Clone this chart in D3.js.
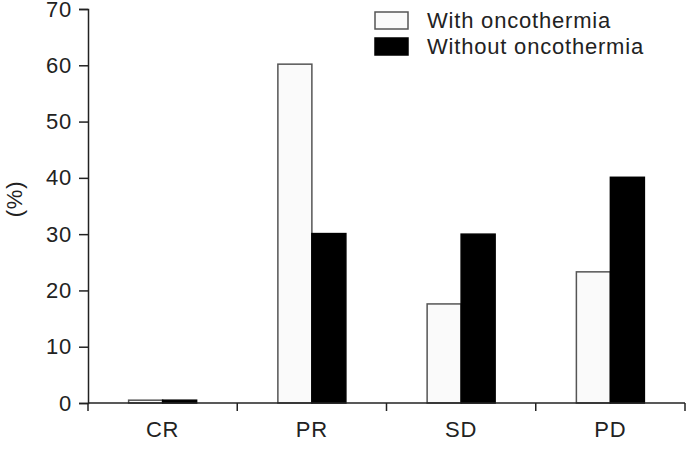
<!DOCTYPE html>
<html>
<head>
<meta charset="utf-8">
<script src="https://cdn.jsdelivr.net/npm/d3@7"></script>
<style>
  body { margin: 0; background: #fff; }
  svg text { font-family: "Liberation Sans", Arial, sans-serif; fill: #222; letter-spacing: 0.8px; }
</style>
</head>
<body>
<div id="chart"></div>
<script>
var categories = ["CR", "PR", "SD", "PD"];
var seriesNames = ["With oncothermia", "Without oncothermia"];
var withOnco = [0.5, 60.2, 17.6, 23.3];
var withoutOnco = [0.5, 30.1, 30, 40.1];
var yTicks = [0, 10, 20, 30, 40, 50, 60, 70];
var fills = ["#fafafa", "#000"];
var strokes = ["#555", "#000"];

var width = 690, height = 451;
var margin = { left: 88, right: 5, top: 9, bottom: 48 };

var svg = d3.select("#chart").append("svg")
  .attr("width", width)
  .attr("height", height);

var x = d3.scaleBand()
  .domain(categories)
  .range([margin.left, width - margin.right])
  .paddingInner(0)
  .paddingOuter(0);

var y = d3.scaleLinear()
  .domain([0, 70])
  .range([height - margin.bottom, margin.top]);

var sub = d3.scaleBand()
  .domain([0, 1])
  .range([0, 68]);

var rows = categories.map(function (c, i) {
  return { cat: c, vals: [withOnco[i], withoutOnco[i]] };
});

// bars
var groups = svg.append("g").selectAll("g")
  .data(rows)
  .enter().append("g")
  .attr("transform", function (d) {
    return "translate(" + (x(d.cat) + x.bandwidth() / 2 - 34) + ",0)";
  });

groups.selectAll("rect")
  .data(function (d) { return d.vals; })
  .enter().append("rect")
  .attr("x", function (d, i) { return sub(i); })
  .attr("width", sub.bandwidth())
  .attr("y", function (d) { return y(d); })
  .attr("height", function (d) { return y(0) - y(d); })
  .attr("fill", function (d, i) { return fills[i]; })
  .attr("stroke", function (d, i) { return strokes[i]; })
  .attr("stroke-width", 1.5);

// y axis
var yAxis = svg.append("g")
  .attr("transform", "translate(" + margin.left + ",0)")
  .call(d3.axisLeft(y).tickValues(yTicks).tickSize(9).tickPadding(7));
yAxis.select(".domain").attr("stroke", "#222").attr("stroke-width", 1.5);
yAxis.selectAll(".tick line").attr("stroke", "#222").attr("stroke-width", 1.5);
yAxis.selectAll(".tick text").style("font-size", "22px").attr("fill", "#222");

// x axis, ticks at category boundaries
var xAxis = svg.append("g")
  .attr("transform", "translate(0," + y(0) + ")");
xAxis.append("line")
  .attr("x1", margin.left).attr("x2", width - margin.right)
  .attr("stroke", "#222").attr("stroke-width", 1.5);
var bounds = categories.map(function (c) { return x(c); }).concat([x.range()[1]]);
xAxis.selectAll(".bt")
  .data(bounds)
  .enter().append("line")
  .attr("class", "bt")
  .attr("x1", function (d) { return d; })
  .attr("x2", function (d) { return d; })
  .attr("y1", 0).attr("y2", 8)
  .attr("stroke", "#222").attr("stroke-width", 1.5);
xAxis.selectAll(".cl")
  .data(categories)
  .enter().append("text")
  .attr("class", "cl")
  .attr("x", function (d) { return x(d) + x.bandwidth() / 2; })
  .attr("y", 34)
  .attr("text-anchor", "middle")
  .style("font-size", "22px")
  .text(function (d) { return d; });

// y label
svg.append("text")
  .attr("transform", "translate(22,199) rotate(-90)")
  .attr("text-anchor", "middle")
  .style("font-size", "22px")
  .text("(%)");

// legend
var legend = svg.append("g").attr("transform", "translate(375,12)");
var li = legend.selectAll("g")
  .data(seriesNames)
  .enter().append("g")
  .attr("transform", function (d, i) { return "translate(0," + (i * 26) + ")"; });
li.append("rect")
  .attr("width", 33).attr("height", 17)
  .attr("fill", function (d, i) { return fills[i]; })
  .attr("stroke", function (d, i) { return strokes[i]; })
  .attr("stroke-width", 1.5);
li.append("text")
  .attr("x", 52).attr("y", 16)
  .style("font-size", "22px")
  .text(function (d) { return d; });
</script>
</body>
</html>
